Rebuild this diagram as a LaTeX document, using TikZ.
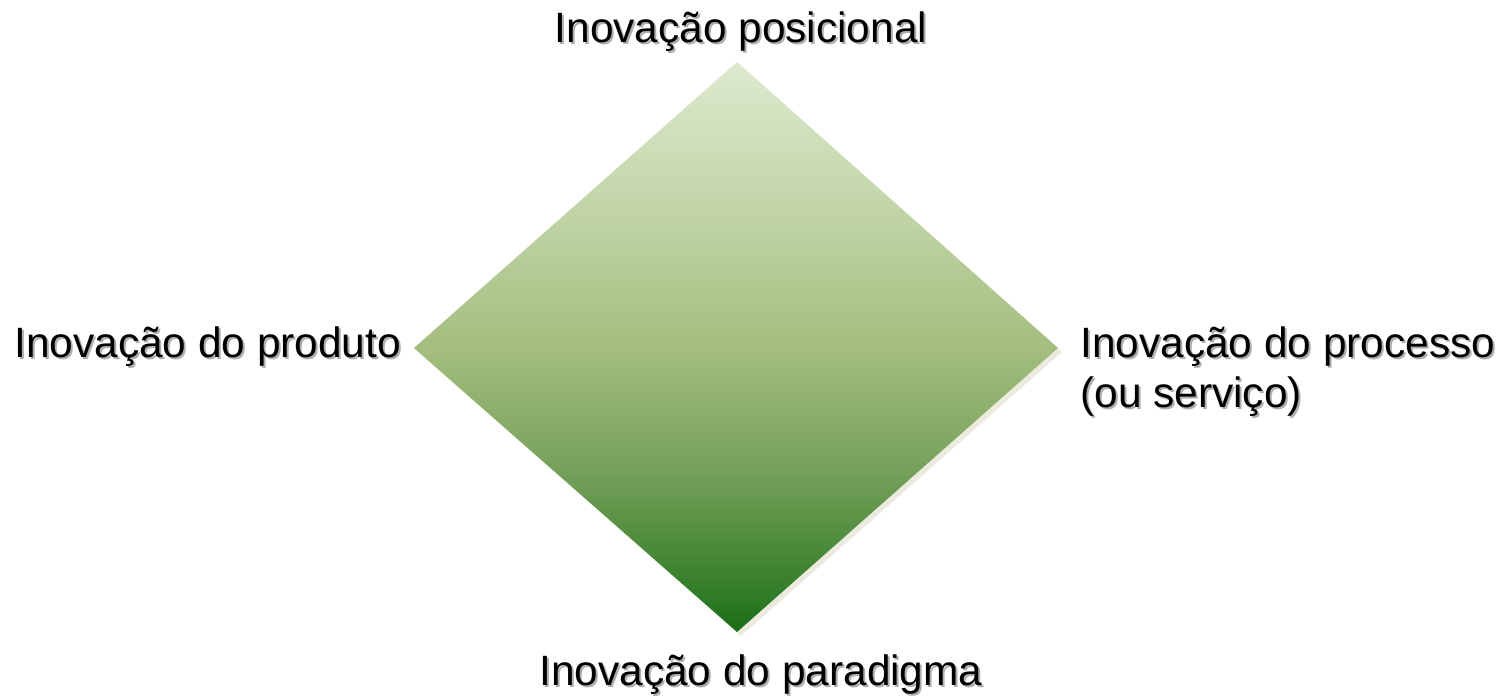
\documentclass[tikz,border=0pt]{standalone}
\usepackage{fontspec}
\setmainfont{Liberation Sans}
\definecolor{dshadow}{HTML}{ECEADF}
\pgfdeclareverticalshading{diamondshade}{100bp}{%
  color(0bp)=(rgb,255:red,28;green,108;blue,24);
  color(25bp)=(rgb,255:red,28;green,108;blue,24);
  color(27.8bp)=(rgb,255:red,46;green,122;blue,38);
  color(39.2bp)=(rgb,255:red,118;green,161;blue,90);
  color(50bp)=(rgb,255:red,164;green,190;blue,126);
  color(62.9bp)=(rgb,255:red,195;green,214;blue,170);
  color(75bp)=(rgb,255:red,221;green,233;blue,206);
  color(100bp)=(rgb,255:red,221;green,233;blue,206)}
\tikzset{
  lab/.style={inner sep=0pt, font=\fontsize{21.2pt}{24pt}\selectfont, text=black},
  labshadow/.style={inner sep=0pt, font=\fontsize{21.2pt}{24pt}\selectfont, text=black!45, opacity=0.7},
}
\begin{document}
\begin{tikzpicture}[x=0.5pt,y=-0.5pt]
\useasboundingbox (0,0) rectangle (1512,699);
\coordinate (T) at (737,62);
\coordinate (R) at (1058,348);
\coordinate (B) at (737,632);
\coordinate (L) at (414,348);
% diamond shadow
\fill[dshadow] ([shift={(4,4)}]T) -- ([shift={(4,4)}]R) -- ([shift={(4,4)}]B) -- ([shift={(4,4)}]L) -- cycle;
% diamond
\shade[shading=diamondshade] (T) -- (R) -- (B) -- (L) -- cycle;
% labels with shadow
\foreach \dx/\sty in {2/labshadow,0/lab}{
  \node[\sty, anchor=base] (top\dx) at ([shift={(\dx,\dx)}]741,43) {Inovação posicional};
  \node[\sty, anchor=base west] (left\dx) at ([shift={(\dx,\dx)}]14,358) {Inovação do produto};
  \node[\sty, anchor=base west] (right\dx) at ([shift={(\dx,\dx)}]1080,358) {Inovação do processo};
  \node[\sty, anchor=base west] (right2\dx) at ([shift={(\dx,\dx)}]1080,408) {(ou serviço)};
  \node[\sty, anchor=base] (bot\dx) at ([shift={(\dx,\dx)}]761,686) {Inovação do paradigma};
}
\end{tikzpicture}
\end{document}
